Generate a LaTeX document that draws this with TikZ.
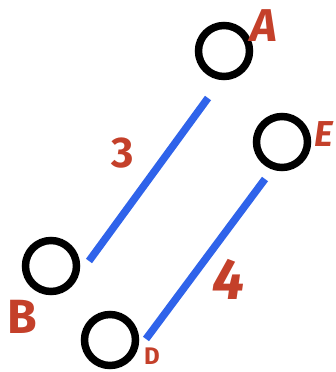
\documentclass[tikz,border=0pt]{standalone}
\usepackage{fontspec}
\setmainfont{Fira Sans}
\begin{document}
\begin{tikzpicture}[x=1pt,y=-1pt,
  ring/.style={circle,draw=black,line width=7.5pt,minimum size=51pt,inner sep=0pt},
  edgeline/.style={draw=myblue,line width=7.5pt},
  lbl/.style={text=myred,font=\bfseries,inner sep=0pt},
]
\definecolor{myblue}{HTML}{2F63EA}
\definecolor{myred}{HTML}{C4402A}
\useasboundingbox (0,0) rectangle (336,372);
\node[ring] (A) at (224,51) {};
\node[ring] (E) at (282,142) {};
\node[ring] (B) at (51,266) {};
\node[ring] (D) at (110,340) {};
\node[lbl,font=\bfseries\itshape\fontsize{46}{46}\selectfont] (lA) at (264,26) {A};
\node[lbl,font=\bfseries\itshape\fontsize{36}{36}\selectfont] (lE) at (324,134) {E};
\node[lbl,font=\bfseries\fontsize{48}{48}\selectfont] (lB) at (22,317) {B};
\node[lbl,anchor=base,font=\bfseries\fontsize{24}{24}\selectfont] (lD) at (152,364) {D};
\node[lbl,font=\bfseries\fontsize{43}{43}\selectfont] (l3) at (123,153) {3};
\node[lbl,font=\bfseries\itshape\fontsize{58}{58}\selectfont] (l4) at (229,279) {4};
\coordinate (p1) at (208,98);
\coordinate (p2) at (89,261);
\coordinate (q1) at (265,179);
\coordinate (q2) at (146,339);
\draw[edgeline] (p1) -- (p2);
\draw[edgeline] (q1) -- (q2);
\end{tikzpicture}
\end{document}
